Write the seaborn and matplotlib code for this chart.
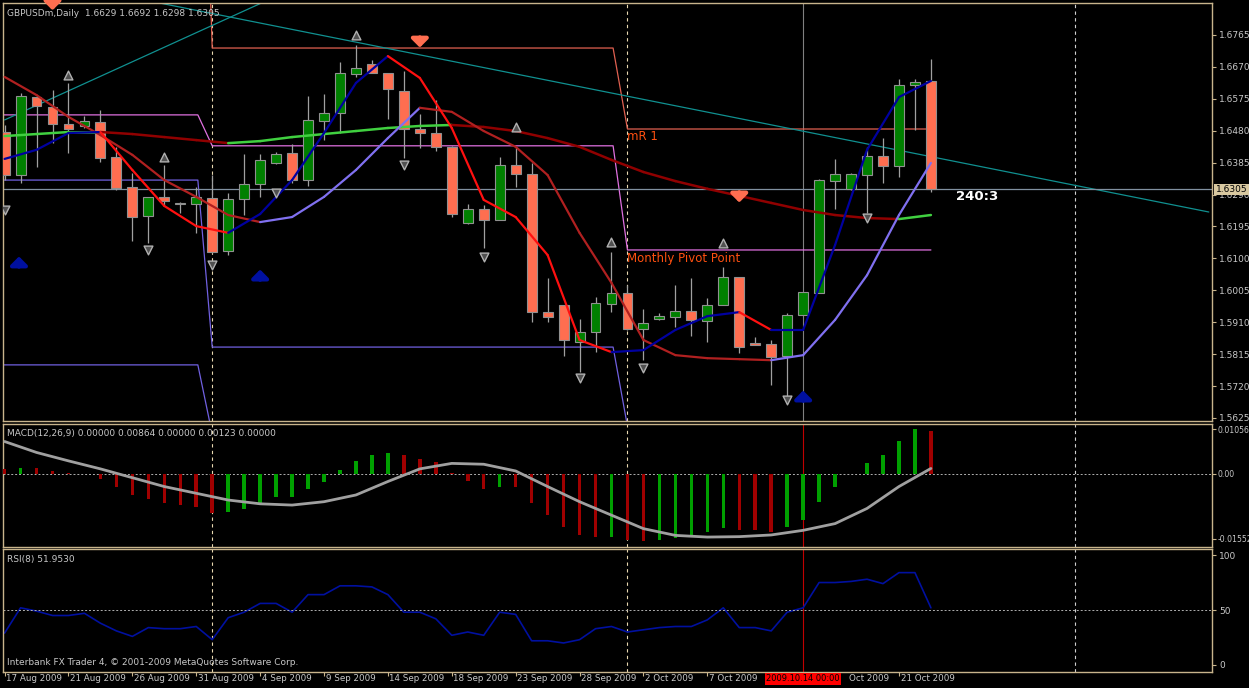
import numpy as np
import pandas as pd
import matplotlib
matplotlib.use("Agg")
import matplotlib.pyplot as plt
import seaborn as sns

sns.set_style("dark")
plt.rcParams['font.family'] = ['DejaVu Sans']

# ---------------- data ----------------
opens = [1.6476,1.6348,1.6580,1.6551,1.6500,1.6494,1.6506,1.6402,1.6313,1.6226,1.6283,1.6262,1.6262,1.6280,1.6122,
         1.6277,1.6321,1.6384,1.6414,1.6333,1.6509,1.6533,1.6649,1.6679,1.6652,1.6598,1.6485,1.6473,1.6432,1.6205,
         1.6247,1.6214,1.6378,1.6351,1.5940,1.5961,1.5851,1.5881,1.5964,1.5997,1.5890,1.5920,1.5925,1.5943,1.5914,
         1.5961,1.6045,1.5848,1.5845,1.5809,1.5931,1.5997,1.6330,1.6307,1.6348,1.6405,1.6375,1.6616,1.6629]
highs = [1.6497,1.6592,1.6586,1.6601,1.6622,1.6524,1.6542,1.6432,1.6354,1.6283,1.6378,1.6268,1.6313,1.6348,1.6295,
         1.6411,1.6411,1.6417,1.6441,1.6583,1.6589,1.6685,1.6735,1.6691,1.6652,1.6658,1.6530,1.6571,1.6435,1.6262,
         1.6259,1.6402,1.6432,1.6384,1.6042,1.5961,1.5920,1.5985,1.6119,1.6021,1.5949,1.5937,1.6021,1.6042,1.5982,
         1.6074,1.6045,1.5866,1.5857,1.5937,1.6000,1.6336,1.6396,1.6354,1.6432,1.6458,1.6634,1.6634,1.6692]
lows = [1.6333,1.6324,1.6372,1.6443,1.6414,1.6488,1.6387,1.6304,1.6152,1.6146,1.6259,1.6235,1.6176,1.6116,1.6110,
        1.6229,1.6283,1.6381,1.6324,1.6315,1.6452,1.6473,1.6640,1.6652,1.6515,1.6399,1.6429,1.6420,1.6223,1.6202,
        1.6131,1.6214,1.6313,1.5911,1.5911,1.5809,1.5762,1.5821,1.5940,1.5887,1.5797,1.5917,1.5896,1.5869,1.5851,
        1.5961,1.5818,1.5842,1.5723,1.5678,1.5931,1.5997,1.6247,1.6304,1.6235,1.6324,1.6342,1.6482,1.6298]
closes = [1.6348,1.6583,1.6554,1.6500,1.6485,1.6509,1.6399,1.6310,1.6223,1.6283,1.6271,1.6262,1.6283,1.6119,1.6277,
          1.6321,1.6393,1.6411,1.6333,1.6512,1.6533,1.6652,1.6667,1.6652,1.6604,1.6485,1.6473,1.6432,1.6232,1.6247,
          1.6214,1.6378,1.6351,1.5940,1.5925,1.5857,1.5881,1.5967,1.5997,1.5890,1.5908,1.5928,1.5943,1.5917,1.5961,
          1.6045,1.5836,1.5842,1.5806,1.5931,1.6000,1.6333,1.6351,1.6351,1.6405,1.6375,1.6616,1.6625,1.6305]

line_bars = list(range(0, 59, 2))
fast_line = [1.6396,1.6423,1.6473,1.6476,1.6363,1.6256,1.6196,1.6176,1.6232,1.6333,1.6473,1.6622,1.6702,1.6637,1.6488,
             1.6274,1.6223,1.6110,1.5857,1.5821,1.5827,1.5887,1.5928,1.5940,1.5887,1.5887,1.6140,1.6423,1.6580,1.6628]
slow_line = [1.6640,1.6586,1.6521,1.6467,1.6408,1.6333,1.6283,1.6229,1.6208,1.6223,1.6283,1.6363,1.6458,1.6548,1.6536,
             1.6479,1.6432,1.6348,1.6176,1.6027,1.5857,1.5812,1.5803,1.5800,1.5797,1.5812,1.5917,1.6050,1.6229,1.6384]
long_ma = [1.6464,1.6470,1.6476,1.6476,1.6470,1.6461,1.6452,1.6443,1.6449,1.6461,1.6470,1.6479,1.6488,1.6494,1.6497,
           1.6491,1.6479,1.6458,1.6432,1.6393,1.6357,1.6330,1.6307,1.6286,1.6265,1.6244,1.6229,1.6220,1.6217,1.6229]

macd_hist = [0.0010,0.0014,0.0012,0.0007,0.0002,0.0000,-0.0014,-0.0031,-0.0051,-0.0060,-0.0069,-0.0076,-0.0080,-0.0093,
             -0.0091,-0.0085,-0.0071,-0.0056,-0.0055,-0.0036,-0.0019,0.0008,0.0030,0.0044,0.0048,0.0044,0.0035,0.0028,
             0.0002,-0.0017,-0.0036,-0.0033,-0.0033,-0.0069,-0.0099,-0.0127,-0.0147,-0.0151,-0.0150,-0.0159,-0.0161,
             -0.0158,-0.0153,-0.0145,-0.0139,-0.0129,-0.0134,-0.0135,-0.0139,-0.0127,-0.0111,-0.0068,-0.0033,-0.0002,
             0.0026,0.0043,0.0078,0.0106,0.0100]
macd_signal = [0.0076,0.0050,0.0030,0.0011,-0.0010,-0.0031,-0.0047,-0.0063,-0.0072,-0.0075,-0.0067,-0.0051,-0.0019,
               0.0011,0.0024,0.0022,0.0006,-0.0031,-0.0067,-0.0099,-0.0131,-0.0147,-0.0151,-0.0150,-0.0146,-0.0135,
               -0.0119,-0.0083,-0.0031,0.0012]
rsi = [29,52,49,45,45,47,38,31,26,34,33,33,35,23,43,48,56,56,48,64,64,72,72,71,64,48,48,42,27,30,27,48,46,22,22,20,
       23,33,35,30,32,34,35,35,41,52,34,34,31,48,52,75,75,76,78,74,84,84,52]

date_ticks = [0,4,8,12,16,20,24,28,32,36,40,44,48,52,56]
date_labels = ["17 Aug 2009","21 Aug 2009","26 Aug 2009","31 Aug 2009","4 Sep 2009","9 Sep 2009","14 Sep 2009",
               "18 Sep 2009","23 Sep 2009","28 Sep 2009","2 Oct 2009","7 Oct 2009","","Oct 2009","21 Oct 2009"]
price_ticks = [1.6765,1.6670,1.6575,1.6480,1.6385,1.6290,1.6195,1.6100,1.6005,1.5910,1.5815,1.5720,1.5625]

# pivot steps: (bar, price)
mr1_x = [12.9,13.0,38.1,39.0,58.0];  mr1_y = [1.6869,1.6726,1.6726,1.6485,1.6485]
piv_x = [-1,12.1,13.0,38.1,39.0,58.0]; piv_y = [1.6527,1.6527,1.6435,1.6435,1.6125,1.6125]
s1_x = [-1,12.1,13.0,38.1,39.0];  s1_y = [1.6333,1.6333,1.5836,1.5836,1.5600]
s2_x = [-1,12.1,12.9];  s2_y = [1.5783,1.5783,1.5600]
trend1_x = [0,16.5]; trend1_y = [1.6512,1.6869]
trend2_x = [8.75,75.4]; trend2_y = [1.6869,1.6238]
up_fr_x = [4,10,22,32,38,45]; up_fr_y = [1.6646,1.6402,1.6765,1.6491,1.6149,1.6146]
dn_fr_x = [0,9,13,17,25,30,36,40,49,54]; dn_fr_y = [1.6244,1.6125,1.6080,1.6295,1.6378,1.6104,1.5744,1.5774,1.5678,1.6220]
blue_up_x = [0.9,16,50]; blue_up_y = [1.6089,1.6050,1.5690]
red_dn_x = [26,46,3]; red_dn_y = [1.6744,1.6283,1.6855]

# ---------------- figure ----------------
W, H = 1249, 688
fig = plt.figure(figsize=(W/100, H/100), dpi=100, facecolor='black')
def ax_at(x0, y0, x1, y1):
    a = fig.add_axes([x0/W, 1-y1/H, (x1-x0)/W, (y1-y0)/H])
    a.set_facecolor('black')
    for s in a.spines.values():
        s.set_color('#c8b48c'); s.set_linewidth(1)
    return a

XL = (-0.1, 75.6)
axm = ax_at(3, 3, 1212, 421)
axd = ax_at(3, 424, 1212, 547)
axr = ax_at(3, 549, 1212, 672)
for a in (axm, axd, axr):
    a.set_xlim(*XL)
    a.yaxis.tick_right()
    a.tick_params(axis='y', colors='#c8b48c', labelcolor='#c8c8c8', labelsize=6.5, length=3, pad=2)
    a.tick_params(axis='x', bottom=False, labelbottom=False)
    a.grid(False)
    a.axvline(50, color='#c00000' if a is not axm else '#808080', lw=0.8)
    for xv in (13.0, 39.0):
        a.axvline(xv, color='#e8d8b0', lw=0.8, ls=(0, (3, 3)))
    a.axvline(67, color='#d0d0d0', lw=0.8, ls=(0, (3, 3)))

# --- main panel ---
axm.set_ylim(1.5616, 1.6860)
axm.set_yticks(price_ticks)
axm.set_yticklabels([f"{p:.4f}" for p in price_ticks])

axm.plot(mr1_x, mr1_y, color='#e06050', lw=0.9)
axm.plot(piv_x, piv_y, color='#e070e0', lw=0.9)
axm.plot(s1_x, s1_y, color='#7060e0', lw=0.9)
axm.plot(s2_x, s2_y, color='#7060e0', lw=0.9)
axm.plot(trend1_x, trend1_y, color='#109090', lw=0.9)
axm.plot(trend2_x, trend2_y, color='#109090', lw=0.9)
axm.axhline(closes[-1], color='#8090a0', lw=0.9)

bars = np.arange(len(opens))
for i in bars:
    o, h, l, c = opens[i], highs[i], lows[i], closes[i]
    axm.vlines(i, l, h, color='#a0a0a0', lw=0.9, zorder=3)
    bull = c >= o
    lo, hi = min(o, c), max(o, c)
    axm.bar(i, max(hi-lo, 0.00015), bottom=lo, width=0.62,
            color='#008000' if bull else '#ff6e50', edgecolor='#909090', lw=0.8, zorder=4)

def colored(ax, xs, ys, up, dn, lw=1.6):
    for k in range(len(xs)-1):
        col = up if ys[k+1] >= ys[k] else dn
        ax.plot(xs[k:k+2], ys[k:k+2], color=col, lw=lw, zorder=5, solid_capstyle='round')

colored(axm, line_bars, long_ma, '#40d040', '#900000', 1.8)
colored(axm, line_bars, slow_line, '#8070f0', '#b02020', 1.6)
colored(axm, line_bars, fast_line, '#0000a0', '#ff1010', 1.6)

axm.scatter(up_fr_x, up_fr_y, marker='^', s=40, color='#505050', edgecolors='#b0b0b0', zorder=6)
axm.scatter(dn_fr_x, dn_fr_y, marker='v', s=40, color='#505050', edgecolors='#b0b0b0', zorder=6)
for x, y in zip(blue_up_x, blue_up_y):
    axm.annotate('', xy=(x, y+0.0025), xytext=(x, y-0.0022),
                 arrowprops=dict(arrowstyle='-|>,head_width=0.5,head_length=0.5', color='#0010a0', lw=3), zorder=7)
for x, y in zip(red_dn_x, red_dn_y):
    axm.annotate('', xy=(x, y-0.0025), xytext=(x, y+0.0022),
                 arrowprops=dict(arrowstyle='-|>,head_width=0.5,head_length=0.5', color='#ff6e50', lw=3), zorder=7)

axm.text(39.0, 1.6462, "mR 1", color='#ff5010', fontsize=8.5, va='center')
axm.text(39.0, 1.6100, "Monthly Pivot Point", color='#ff5010', fontsize=8.5, va='center')
axm.text(59.6, 1.6283, "240:3", color='white', fontsize=9.5, fontweight='bold', va='center')
axm.text(0.003, 0.985, "GBPUSDm,Daily  1.6629 1.6692 1.6298 1.6305", transform=axm.transAxes,
         color='#c8c8c8', fontsize=6.5, va='top')
axm.text(1.003, (closes[-1]-1.5616)/(1.6860-1.5616), f"{closes[-1]:.4f}", transform=axm.transAxes,
         color='black', fontsize=6.5, va='center', ha='left', zorder=10,
         bbox=dict(boxstyle='square,pad=0.15', fc='#d8c8a0', ec='none'))

# --- MACD panel ---
axd.set_ylim(-0.01746, 0.01176)
axd.set_yticks([0.01056, 0.0, -0.01552])
axd.set_yticklabels(["0.01056", "0.00", "-0.01552"])
axd.tick_params(axis='y', labelsize=5.6, pad=1)
hist_cols = ['#a00000'] + ['#00a000' if macd_hist[k] > macd_hist[k-1] else '#a00000' for k in range(1, len(macd_hist))]
axd.bar(bars, macd_hist, width=0.22, color=hist_cols, edgecolor='none', lw=0, zorder=3)
sns.lineplot(x=line_bars, y=macd_signal, ax=axd, color='#a0a0a0', lw=2, zorder=4)
axd.axhline(0, color='#b0b0b0', lw=0.7, ls=(0, (2, 2)))
axd.text(0.003, 0.96, "MACD(12,26,9) 0.00000 0.00864 0.00000 0.00123 0.00000", transform=axd.transAxes,
         color='#c8c8c8', fontsize=6.5, va='top')

# --- RSI panel ---
axr.set_ylim(-6.4, 105.5)
axr.set_yticks([0, 50, 100]); axr.set_yticklabels(["0", "50", "100"])
sns.lineplot(x=bars, y=rsi, ax=axr, color='#0010a0', lw=1.2)
axr.axhline(50, color='#b0b0b0', lw=0.7, ls=(0, (2, 2)))
axr.text(0.003, 0.95, "RSI(8) 51.9530", transform=axr.transAxes, color='#c8c8c8', fontsize=6.5, va='top')
axr.text(0.003, 0.04, "Interbank FX Trader 4, \u00a9 2001-2009 MetaQuotes Software Corp.", transform=axr.transAxes,
         color='#c8c8c8', fontsize=6.5, va='bottom')

# --- date axis ---
axr.set_xticks(date_ticks)
axr.tick_params(axis='x', bottom=True, labelbottom=False, colors='#c8b48c', length=3)
for t, lab in zip(date_ticks, date_labels):
    if lab:
        xpos = t + (0.9 if lab == "Oct 2009" else 0.1)
        axr.text(xpos, -0.02, lab, transform=axr.get_xaxis_transform(), color='#c8c8c8',
                 fontsize=6.3, va='top', ha='left')
axr.text(47.7, -0.02, "2009.10.14 00:00", transform=axr.get_xaxis_transform(), color='black',
         fontsize=6.0, va='top', ha='left', zorder=10,
         bbox=dict(boxstyle='square,pad=0.15', fc='#ff0000', ec='none'))

fig.savefig("out.png", dpi=100, facecolor='black')
